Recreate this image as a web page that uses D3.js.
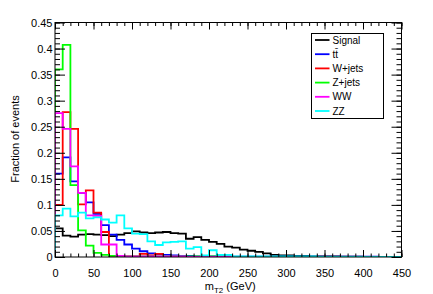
<!DOCTYPE html>
<html>
<head>
<meta charset="utf-8">
<script src="https://cdn.jsdelivr.net/npm/d3@7"></script>
<style>
  body { margin: 0; background: #fff; }
  svg text { font-family: "Liberation Sans", Arial, sans-serif; fill: #000; }
</style>
</head>
<body>
<div id="chart"></div>
<script>
// bin lower edges, 10 GeV wide, 0..440
var binEdges = d3.range(0, 450, 10);

// fraction of events per bin
var signal = [0.055, 0.041, 0.039, 0.043, 0.044, 0.043, 0.042, 0.040, 0.043, 0.046,
  0.049, 0.047, 0.046, 0.047, 0.048, 0.046, 0.045, 0.035, 0.038, 0.033,
  0.029, 0.025, 0.020, 0.018, 0.014, 0.012, 0.010, 0.007, 0.004, 0.003,
  0.003, 0.002, 0.002, 0.001, 0.001, 0.001, 0.001, 0.0006, 0.0006, 0.0005,
  0.0003, 0.0002, 0, 0, 0];
var ttbar = [0.160, 0.191, 0.145, 0.123, 0.105, 0.083, 0.061, 0.043, 0.033, 0.024,
  0.016, 0.011, 0.007, 0.005, 0.004, 0.003, 0.002, 0.002, 0.001, 0.001,
  0.001, 0.001, 0.001, 0.0008, 0.0008, 0.0008, 0.0008, 0.0008, 0.0008, 0.0008,
  0.0008, 0.0008, 0.0008, 0.0008, 0.0008, 0.0008, 0.0008, 0.0008, 0.0008, 0.0008,
  0.0008, 0.0008, 0, 0, 0];
var wjets = [0.100, 0.278, 0.246, 0.101, 0.128, 0.085, 0.048, 0.002, 0.001, 0.001,
  0.001, 0.006, 0.003, 0.006, 0, 0, 0, 0, 0, 0,
  0, 0, 0, 0, 0, 0, 0, 0, 0, 0,
  0, 0, 0, 0, 0, 0, 0, 0, 0, 0,
  0, 0, 0, 0, 0];
var zjets = [0.360, 0.407, 0.138, 0.051, 0.022, 0.008, 0.004, 0.002, 0.001, 0.001,
  0.001, 0.001, 0.001, 0.001, 0.001, 0.001, 0.001, 0.001, 0.001, 0.001,
  0.001, 0.001, 0, 0, 0, 0, 0, 0, 0, 0,
  0, 0, 0, 0, 0, 0, 0, 0, 0, 0,
  0, 0, 0, 0, 0];
var ww = [0.276, 0.246, 0.174, 0.123, 0.080, 0.079, 0.024, 0.024, 0.002, 0.001,
  0.001, 0.001, 0.001, 0.001, 0.001, 0.001, 0.001, 0, 0, 0,
  0, 0, 0, 0, 0, 0, 0, 0, 0, 0,
  0, 0, 0, 0, 0, 0, 0, 0, 0, 0,
  0, 0, 0, 0, 0];
var zz = [0.080, 0.093, 0.078, 0.085, 0.074, 0.076, 0.072, 0.066, 0.080, 0.055,
  0.045, 0.044, 0.030, 0.023, 0.028, 0.029, 0.030, 0.016, 0.019, 0.003,
  0.013, 0.004, 0.004, 0.001, 0.001, 0.001, 0.001, 0.001, 0.001, 0.001,
  0.001, 0.001, 0.001, 0.001, 0, 0, 0, 0, 0, 0,
  0, 0, 0, 0, 0];

var seriesNames = ['Signal', 't\u0305t\u0305', 'W+jets', 'Z+jets', 'WW', 'ZZ'];
var seriesColors = ['#000000', '#0000ff', '#ff0000', '#00ff00', '#ff00ff', '#00ffff'];
var seriesValues = [signal, ttbar, wjets, zjets, ww, zz];

var xTicks = d3.range(0, 451, 50);
var yTicks = d3.range(0, 0.451, 0.05);

const dims = { width: 433, height: 294, left: 55, right: 401.5, top: 22.5, bottom: 257 };

const svg = d3.select('#chart').append('svg')
  .attr('width', dims.width)
  .attr('height', dims.height);

const x = d3.scaleLinear().domain([0, 450]).range([dims.left, dims.right]);
const y = d3.scaleLinear().domain([0, 0.45]).range([dims.bottom, dims.top]);

svg.append('clipPath').attr('id', 'plotClip')
  .append('rect')
  .attr('x', dims.left).attr('y', dims.top)
  .attr('width', dims.right - dims.left)
  .attr('height', dims.bottom - dims.top);

// histograms as step outlines
const step = d3.line()
  .x(d => x(d[0]))
  .y(d => y(d[1]))
  .curve(d3.curveStepAfter);

const hists = svg.append('g').attr('clip-path', 'url(#plotClip)');
seriesValues.forEach(function(vals, i) {
  var pts = [[0, 0]];
  binEdges.forEach(function(e, j) { pts.push([e, vals[j]]); });
  pts.push([450, vals[vals.length - 1]]);
  pts.push([450, 0]);
  hists.append('path')
    .attr('d', step(pts))
    .attr('fill', 'none')
    .attr('stroke', seriesColors[i])
    .attr('stroke-width', 1.8);
});

// axes: major + minor ticks on all four sides
function styleAxis(g) {
  g.select('.domain').remove();
  g.selectAll('line').attr('stroke', '#000').attr('stroke-width', 1);
}
var xMinor = d3.range(0, 451, 10);
var yMinor = d3.range(0, 0.4501, 0.01);

svg.append('g').attr('transform', `translate(0,${dims.bottom})`)
  .call(d3.axisBottom(x).tickValues(xMinor).tickSize(-3.5).tickFormat(''))
  .call(styleAxis);
const xAxis = svg.append('g').attr('transform', `translate(0,${dims.bottom})`)
  .call(d3.axisBottom(x).tickValues(xTicks).tickSize(-7).tickPadding(12).tickFormat(d3.format('d')))
  .call(styleAxis);
xAxis.selectAll('text').attr('font-size', 11);

svg.append('g').attr('transform', `translate(0,${dims.top})`)
  .call(d3.axisTop(x).tickValues(xMinor).tickSize(-3.5).tickFormat(''))
  .call(styleAxis);
svg.append('g').attr('transform', `translate(0,${dims.top})`)
  .call(d3.axisTop(x).tickValues(xTicks).tickSize(-7).tickFormat(''))
  .call(styleAxis);

svg.append('g').attr('transform', `translate(${dims.left},0)`)
  .call(d3.axisLeft(y).tickValues(yMinor).tickSize(-5).tickFormat(''))
  .call(styleAxis);
const yAxis = svg.append('g').attr('transform', `translate(${dims.left},0)`)
  .call(d3.axisLeft(y).tickValues(yTicks).tickSize(-10).tickPadding(-7.5)
    .tickFormat(d => d === 0 ? '0' : d3.format('.2~f')(d)))
  .call(styleAxis);
yAxis.selectAll('text').attr('font-size', 11).attr('x', -2.5);

svg.append('g').attr('transform', `translate(${dims.right},0)`)
  .call(d3.axisRight(y).tickValues(yMinor).tickSize(-5).tickFormat(''))
  .call(styleAxis);
svg.append('g').attr('transform', `translate(${dims.right},0)`)
  .call(d3.axisRight(y).tickValues(yTicks).tickSize(-10).tickFormat(''))
  .call(styleAxis);

// frame
svg.append('rect')
  .attr('x', dims.left).attr('y', dims.top)
  .attr('width', dims.right - dims.left).attr('height', dims.bottom - dims.top)
  .attr('fill', 'none').attr('stroke', '#000').attr('stroke-width', 1);

// axis titles
const xt = svg.append('text')
  .attr('x', (dims.left + dims.right) / 2 + 2)
  .attr('y', 289.5)
  .attr('text-anchor', 'middle')
  .attr('font-size', 11);
xt.append('tspan').text('m');
xt.append('tspan').attr('font-size', 8).attr('dy', 3).text('T2');
xt.append('tspan').attr('dy', -3).text(' (GeV)');

svg.append('text')
  .attr('transform', 'translate(19,139) rotate(-90)')
  .attr('text-anchor', 'middle')
  .attr('font-size', 11)
  .text('Fraction of events');

// legend
const leg = svg.append('g');
leg.append('rect')
  .attr('x', 311.5).attr('y', 33.5)
  .attr('width', 72).attr('height', 85)
  .attr('fill', '#fff').attr('stroke', '#000').attr('stroke-width', 1);
seriesNames.forEach(function(name, i) {
  var ly = 40 + i * 14.2;
  leg.append('line')
    .attr('x1', 315).attr('x2', 329.5)
    .attr('y1', ly).attr('y2', ly)
    .attr('stroke', seriesColors[i]).attr('stroke-width', 1.8);
  leg.append('text')
    .attr('x', 332.5).attr('y', ly + 3.5)
    .attr('font-size', 10)
    .text(i === 1 ? 't' : name)
    .call(function(t) {
      if (i === 1) {
        t.text('');
        t.append('tspan').text('t');
        t.append('tspan').text('t\u0304');
      }
    });
});
</script>
</body>
</html>
